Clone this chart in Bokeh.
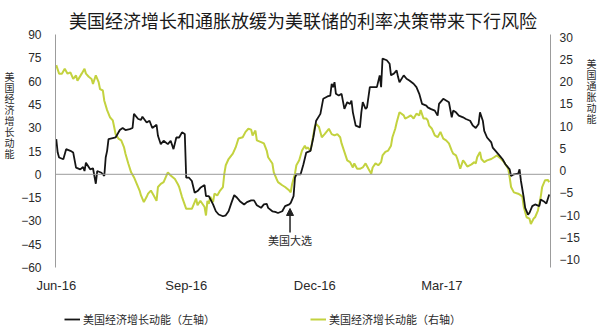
import pandas as pd
from bokeh.plotting import figure
from bokeh.layouts import row, column
from bokeh.models import (Range1d, LinearAxis, DatetimeAxis, FixedTicker, DatetimeTickFormatter,
                          Span, Label, Legend, LegendItem, Arrow, NormalHead, ColumnDataSource)
from bokeh.embed import file_html
from bokeh.resources import INLINE

# ---------------- data ----------------
title_text = "美国经济增长和通胀放缓为美联储的利率决策带来下行风险"
left_title = "美国经济增长动能"
right_title = "美国通胀动能"
legend_labels = ["美国经济增长动能（左轴）", "美国经济增长动能（右轴）"]
event_label = "美国大选"
event_date = "2016-11-13 12:00"
x_tick_dates = ["2016-06-01", "2016-09-01", "2016-12-01", "2017-03-01"]
left_ticks = [-60, -45, -30, -15, 0, 15, 30, 45, 60, 75, 90]
left_tick_labels = ["−60", "−45", "−30", "−15", "0", "15", "30", "45", "60", "75", "90"]
right_ticks = [-20, -15, -10, -5, 0, 5, 10, 15, 20, 25, 30]
right_tick_labels = ["−10", "−15", "−10", "−5", "0", "5", "10", "15", "20", "25", "30"]

growth_dates = [
    "2016-06-01", "2016-06-02", "2016-06-03", "2016-06-06", "2016-06-08", "2016-06-11", "2016-06-13",
    "2016-06-15", "2016-06-18", "2016-06-20", "2016-06-21", "2016-06-22", "2016-06-25", "2016-06-27",
    "2016-06-29", "2016-06-30", "2016-07-03", "2016-07-05", "2016-07-06", "2016-07-07", "2016-07-08",
    "2016-07-11", "2016-07-13", "2016-07-16", "2016-07-18", "2016-07-20", "2016-07-23", "2016-07-25",
    "2016-07-26", "2016-07-29", "2016-07-31", "2016-08-01", "2016-08-04", "2016-08-06", "2016-08-08",
    "2016-08-11", "2016-08-12", "2016-08-14", "2016-08-16", "2016-08-19", "2016-08-21", "2016-08-23",
    "2016-08-25", "2016-08-27", "2016-08-29", "2016-08-31", "2016-09-01", "2016-09-03", "2016-09-05",
    "2016-09-07", "2016-09-09", "2016-09-11", "2016-09-14", "2016-09-15", "2016-09-17", "2016-09-20",
    "2016-09-22", "2016-09-24", "2016-09-27", "2016-09-29", "2016-10-01", "2016-10-03", "2016-10-05",
    "2016-10-07", "2016-10-09", "2016-10-12", "2016-10-14", "2016-10-17", "2016-10-19", "2016-10-21",
    "2016-10-24", "2016-10-26", "2016-10-28", "2016-10-29", "2016-11-01", "2016-11-03", "2016-11-05",
    "2016-11-08", "2016-11-10", "2016-11-13", "2016-11-14", "2016-11-16", "2016-11-17", "2016-11-18",
    "2016-11-21", "2016-11-23", "2016-11-25", "2016-11-28", "2016-11-30", "2016-12-02", "2016-12-05",
    "2016-12-07", "2016-12-10", "2016-12-12", "2016-12-13", "2016-12-14", "2016-12-15", "2016-12-16",
    "2016-12-18", "2016-12-20", "2016-12-22", "2016-12-24", "2016-12-26", "2016-12-27", "2016-12-28",
    "2016-12-30", "2017-01-02", "2017-01-03", "2017-01-04", "2017-01-06", "2017-01-07", "2017-01-09",
    "2017-01-11", "2017-01-14", "2017-01-16", "2017-01-17", "2017-01-18", "2017-01-21", "2017-01-23",
    "2017-01-24", "2017-01-26", "2017-01-28", "2017-01-29", "2017-01-30", "2017-02-02", "2017-02-04",
    "2017-02-06", "2017-02-09", "2017-02-11", "2017-02-13", "2017-02-15", "2017-02-18", "2017-02-19",
    "2017-02-21", "2017-02-24", "2017-02-26", "2017-02-27", "2017-03-02", "2017-03-04", "2017-03-06",
    "2017-03-08", "2017-03-09", "2017-03-11", "2017-03-13", "2017-03-16", "2017-03-18", "2017-03-21",
    "2017-03-23", "2017-03-25", "2017-03-27", "2017-03-28", "2017-03-30", "2017-03-31", "2017-04-02",
    "2017-04-05", "2017-04-06", "2017-04-08", "2017-04-11", "2017-04-13", "2017-04-15", "2017-04-18",
    "2017-04-19", "2017-04-21", "2017-04-24", "2017-04-25", "2017-04-26", "2017-04-28", "2017-04-29",
    "2017-05-01", "2017-05-02", "2017-05-04", "2017-05-06", "2017-05-09", "2017-05-10", "2017-05-12",
    "2017-05-14", "2017-05-16",
]
growth_values = [
    22.7, 14.0, 10.8, 9.7, 16.2, 15.1, 14.0,
    4.3, 3.2, 4.7, 2.1, 7.5, 3.2, 3.9,
    -6.1, 2.1, 1.0, -1.1, 10.8, 15.1, 22.7,
    23.3, 23.7, 28.5, 29.8, 28.5, 29.1, 29.8,
    38.9, 35.6, 35.0, 37.1, 33.4, 34.5, 29.8,
    31.9, 24.8, 19.4, 21.6, 19.4, 21.6, 16.2,
    23.7, 23.7, 27.0, 25.9, -2.2, -2.2, -4.3,
    -11.9, -10.8, -8.7, -6.9, -14.1, -14.1, -19.4,
    -23.8, -25.9, -27.0, -26.4, -23.8, -18.4, -13.4,
    -15.1, -17.3, -19.4, -17.9, -16.8, -16.8, -19.9,
    -21.6, -19.4, -19.0, -21.6, -23.8, -24.2, -24.9,
    -23.8, -20.5, -19.4, -18.4, -14.1, -2.2, 0.0,
    0.0, 6.5, 14.0, 15.1, 23.7, 34.5, 38.9,
    48.6, 50.1, 50.7, 58.3, 56.1, 59.3, 51.8,
    50.7, 51.8, 42.1, 46.4, 45.3, 47.5, 39.9,
    31.3, 30.2, 39.9, 46.4, 42.1, 43.1, 56.1,
    56.1, 56.1, 63.7, 56.1, 74.5, 73.4, 71.2,
    63.7, 64.8, 66.9, 62.6, 59.3, 63.7, 61.5,
    60.4, 58.3, 56.1, 51.8, 45.3, 44.2, 43.1,
    42.1, 41.0, 37.8, 45.3, 48.6, 47.5, 46.4,
    36.7, 41.0, 39.9, 37.8, 36.7, 35.6, 34.5,
    31.3, 29.8, 32.4, 39.9, 34.5, 28.0, 23.7,
    20.5, 17.2, 15.1, 11.9, 9.7, 6.5, 3.2,
    -1.1, 0.0, 0.4, 3.2, -4.3, -15.1, -21.6,
    -25.9, -24.9, -20.5, -19.4, -20.5, -16.2, -17.3,
    -18.8, -13.0,
]

inflation_dates = [
    "2016-06-01", "2016-06-03", "2016-06-05", "2016-06-07", "2016-06-09", "2016-06-11", "2016-06-13",
    "2016-06-15", "2016-06-16", "2016-06-19", "2016-06-21", "2016-06-22", "2016-06-24", "2016-06-26",
    "2016-06-27", "2016-06-29", "2016-07-01", "2016-07-02", "2016-07-04", "2016-07-05", "2016-07-07",
    "2016-07-09", "2016-07-11", "2016-07-12", "2016-07-13", "2016-07-15", "2016-07-17", "2016-07-19",
    "2016-07-20", "2016-07-22", "2016-07-24", "2016-07-26", "2016-07-28", "2016-07-30", "2016-07-31",
    "2016-08-02", "2016-08-04", "2016-08-05", "2016-08-07", "2016-08-09", "2016-08-11", "2016-08-12",
    "2016-08-14", "2016-08-16", "2016-08-19", "2016-08-21", "2016-08-24", "2016-08-26", "2016-08-27",
    "2016-08-29", "2016-09-01", "2016-09-03", "2016-09-05", "2016-09-08", "2016-09-09", "2016-09-11",
    "2016-09-14", "2016-09-15", "2016-09-16", "2016-09-17", "2016-09-18", "2016-09-20", "2016-09-21",
    "2016-09-23", "2016-09-25", "2016-09-27", "2016-09-28", "2016-09-29", "2016-10-01", "2016-10-04",
    "2016-10-06", "2016-10-08", "2016-10-11", "2016-10-13", "2016-10-15", "2016-10-17", "2016-10-18",
    "2016-10-20", "2016-10-21", "2016-10-24", "2016-10-26", "2016-10-28", "2016-10-29", "2016-11-01",
    "2016-11-02", "2016-11-04", "2016-11-05", "2016-11-08", "2016-11-10", "2016-11-13", "2016-11-14",
    "2016-11-15", "2016-11-17", "2016-11-18", "2016-11-20", "2016-11-22", "2016-11-24", "2016-11-25",
    "2016-11-26", "2016-11-28", "2016-11-29", "2016-12-01", "2016-12-02", "2016-12-04", "2016-12-06",
    "2016-12-08", "2016-12-10", "2016-12-11", "2016-12-13", "2016-12-15", "2016-12-17", "2016-12-19",
    "2016-12-20", "2016-12-22", "2016-12-24", "2016-12-26", "2016-12-28", "2016-12-29", "2016-12-31",
    "2017-01-02", "2017-01-04", "2017-01-06", "2017-01-08", "2017-01-10", "2017-01-11", "2017-01-13",
    "2017-01-15", "2017-01-17", "2017-01-18", "2017-01-20", "2017-01-22", "2017-01-24", "2017-01-25",
    "2017-01-27", "2017-01-28", "2017-01-30", "2017-02-02", "2017-02-03", "2017-02-05", "2017-02-07",
    "2017-02-09", "2017-02-11", "2017-02-13", "2017-02-14", "2017-02-16", "2017-02-18", "2017-02-19",
    "2017-02-20", "2017-02-22", "2017-02-24", "2017-02-26", "2017-02-28", "2017-03-02", "2017-03-04",
    "2017-03-06", "2017-03-08", "2017-03-09", "2017-03-11", "2017-03-12", "2017-03-14", "2017-03-16",
    "2017-03-17", "2017-03-19", "2017-03-22", "2017-03-24", "2017-03-25", "2017-03-26", "2017-03-28",
    "2017-03-29", "2017-03-31", "2017-04-02", "2017-04-05", "2017-04-07", "2017-04-09", "2017-04-12",
    "2017-04-14", "2017-04-17", "2017-04-18", "2017-04-19", "2017-04-21", "2017-04-24", "2017-04-26",
    "2017-04-27", "2017-04-28", "2017-04-30", "2017-05-02", "2017-05-03", "2017-05-05", "2017-05-06",
    "2017-05-08", "2017-05-10", "2017-05-11", "2017-05-13", "2017-05-15", "2017-05-16",
]
inflation_values = [
    23.7, 21.8, 21.8, 22.9, 21.8, 22.1, 20.6,
    21.4, 20.2, 21.8, 22.9, 21.8, 21.1, 20.6,
    19.5, 21.4, 19.9, 18.3, 18.0, 15.7, 13.6,
    12.0, 11.3, 9.8, 8.2, 7.2, 6.8, 5.2,
    3.8, 1.6, -0.4, -1.5, -3.0, -4.5, -5.6,
    -7.1, -5.9, -5.2, -4.5, -5.6, -6.8, -3.7,
    -3.0, -2.6, -0.4, -1.1, -1.9, -3.0, -3.7,
    -5.9, -8.6, -8.6, -8.6, -6.3, -7.8, -6.8,
    -8.2, -10.1, -6.8, -7.5, -5.9, -7.1, -5.2,
    -5.6, -4.5, -3.7, -0.7, 1.2, 2.6, 3.8,
    5.2, 7.2, 7.5, 8.7, 9.4, 9.2, 7.9,
    9.0, 6.8, 6.4, 6.1, 4.5, 3.0, 1.6,
    -0.4, -1.9, -2.6, -3.3, -3.7, -4.5, -4.9,
    -3.0, -0.7, 1.2, 2.3, 4.5, 5.6, 4.9,
    5.2, 4.5, 6.1, 9.8, 10.5, 9.8, 7.5,
    8.2, 9.0, 9.4, 8.2, 7.9, 8.2, 7.5,
    6.1, 4.2, 2.3, 1.9, 0.7, 1.6, 0.4,
    0.4, 0.7, 1.6, 0.4, -0.7, 0.7, 1.6,
    1.2, 1.9, 3.4, 4.2, 4.5, 5.6, 7.5,
    9.4, 10.8, 13.1, 12.4, 11.7, 12.0, 12.4,
    11.7, 12.8, 12.4, 13.6, 11.7, 11.7, 11.3,
    10.1, 9.4, 7.9, 7.5, 8.7, 7.2, 6.8,
    6.1, 4.5, 3.8, 3.4, 2.6, 0.4, 2.3,
    1.9, 0.9, 1.4, 1.9, 1.6, 3.0, 4.2,
    2.6, 1.9, 2.3, 2.6, 3.0, 3.4, 2.6,
    1.9, 0.4, -1.5, -3.7, -4.9, -5.2, -5.6,
    -5.9, -8.2, -10.5, -10.8, -12.0, -10.8, -10.5,
    -9.0, -5.9, -3.7, -2.2, -2.1, -2.6,
]

# ---------------- style ----------------
CJK = "Noto Sans CJK SC"
LATIN = "Liberation Sans"
BLACK = "#151515"
GREEN = "#c3d23f"
GRAY = "#9c9c9c"
TXT = "#2a2a2a"

SIDE_W = 18        # width of the strips holding the stacked axis titles
MAIN_H = 305       # height of the chart row; the legend strip sits below it
LEG_H = 331 - MAIN_H
FRAME_TOP, FRAME_BOTTOM = 34, 267   # plot frame (the row aligns the strips' frames to it)


def bare(width, height):
    f = figure(width=width, height=height, output_backend="svg", toolbar_location=None,
               x_axis_type=None, y_axis_type=None, x_range=Range1d(0, width),
               y_range=Range1d(0, height), min_border=0)
    f.outline_line_color = None
    f.background_fill_color = "white"
    f.border_fill_color = "white"
    return f


growth_src = ColumnDataSource(dict(x=pd.to_datetime(growth_dates), y=growth_values))
infl_src = ColumnDataSource(dict(x=pd.to_datetime(inflation_dates), y=inflation_values))

p = figure(width=600 - 2 * SIDE_W, height=MAIN_H, output_backend="svg", toolbar_location=None,
           x_axis_type=None, y_axis_location=None,
           x_range=Range1d(pd.Timestamp("2016-05-31 11:00"), pd.Timestamp("2017-05-16 22:00")),
           y_range=Range1d(-60, 90),
           min_border_left=54 - SIDE_W, min_border_right=50 - SIDE_W,
           min_border_top=FRAME_TOP, min_border_bottom=MAIN_H - FRAME_BOTTOM)
p.extra_y_ranges = {"right": Range1d(-21.8, 30.6)}
p.outline_line_color = None
p.background_fill_color = "white"
p.border_fill_color = "white"
p.xgrid.visible = False
p.ygrid.visible = False

p.title.text = title_text
p.title.align = "center"
p.title.text_font = CJK
p.title.text_font_size = "18px"
p.title.text_font_style = "normal"
p.title.text_color = "#1a1a1a"
p.title.standoff = 4

xaxis = DatetimeAxis(ticker=FixedTicker(ticks=[pd.Timestamp(d).value / 1e6 for d in x_tick_dates]),
                     formatter=DatetimeTickFormatter(days="%b-%y", months="%b-%y", years="%b-%y"))
xaxis.axis_line_color = None
xaxis.major_tick_line_color = None
xaxis.minor_tick_line_color = None
xaxis.major_label_text_font = LATIN
xaxis.major_label_text_font_size = "13px"
xaxis.major_label_text_color = TXT
xaxis.major_label_standoff = 4
p.add_layout(xaxis, "below")

laxis = LinearAxis(ticker=FixedTicker(ticks=left_ticks),
                   major_label_overrides=dict(zip(left_ticks, left_tick_labels)))
raxis = LinearAxis(y_range_name="right", ticker=FixedTicker(ticks=right_ticks),
                   major_label_overrides=dict(zip(right_ticks, right_tick_labels)))
for ax, standoff in ((laxis, 14), (raxis, 9)):
    ax.axis_line_color = GRAY
    ax.axis_line_width = 1
    ax.major_tick_line_color = None
    ax.minor_tick_line_color = None
    ax.major_tick_out = 0
    ax.major_label_standoff = standoff
    ax.major_label_text_font = LATIN
    ax.major_label_text_font_size = "12px"
    ax.major_label_text_color = TXT
p.add_layout(laxis, "left")
p.add_layout(raxis, "right")

p.add_layout(Span(location=0, dimension="width", line_color=GRAY, line_width=1))

r_green = p.line("x", "y", source=infl_src, y_range_name="right", line_color=GREEN, line_width=2)
r_black = p.line("x", "y", source=growth_src, line_color=BLACK, line_width=1.8)

ev = pd.Timestamp(event_date).value / 1e6
p.add_layout(Arrow(end=NormalHead(size=7, fill_color="#222222", line_color="#222222"),
                   x_start=ev, y_start=-37.5, x_end=ev, y_end=-22,
                   line_color="#222222", line_width=1.5))
p.add_layout(Label(x=ev, y=-42.6, text=event_label, text_align="center", text_baseline="middle",
                   text_font=CJK, text_font_size="11px", text_color=TXT))


# stacked upright axis titles, one character per row (screen units, relative to the
# strip's frame, which the row aligns with the main plot's frame)
def stacked(fig, text, center_y, pitch=11):
    n = len(text)
    for i, ch in enumerate(text):
        page_y = center_y + (i - (n - 1) / 2) * pitch
        fig.add_layout(Label(x=SIDE_W / 2, y=FRAME_BOTTOM - page_y, x_units="screen",
                             y_units="screen", text=ch, text_align="center",
                             text_baseline="middle", text_font=CJK, text_font_size="10px",
                             text_color=TXT))


left_strip = bare(SIDE_W, MAIN_H)
stacked(left_strip, left_title, 114)
right_strip = bare(SIDE_W, MAIN_H)
stacked(right_strip, right_title, 90.5)

# legend strip (sample renderers sit outside the visible range; only their legend glyphs show)
leg = bare(600, LEG_H)
lg_black = leg.line(x=[-50, -40], y=[-50, -50], line_color=BLACK, line_width=1.8)
lg_green = leg.line(x=[-50, -40], y=[-50, -50], line_color=GREEN, line_width=2)
legend = Legend(items=[LegendItem(label=legend_labels[0], renderers=[lg_black]),
                       LegendItem(label=legend_labels[1], renderers=[lg_green])],
                location=(64, 4), orientation="horizontal",
                spacing=95, padding=0, margin=0, glyph_width=16, glyph_height=12,
                label_height=12, label_standoff=3, label_text_font=CJK,
                label_text_font_size="11px", label_text_color=TXT,
                border_line_color=None, background_fill_alpha=0)
leg.add_layout(legend, "center")

layout = column(row(left_strip, p, right_strip), leg)
open("out.html", "w").write(file_html(layout, INLINE))
